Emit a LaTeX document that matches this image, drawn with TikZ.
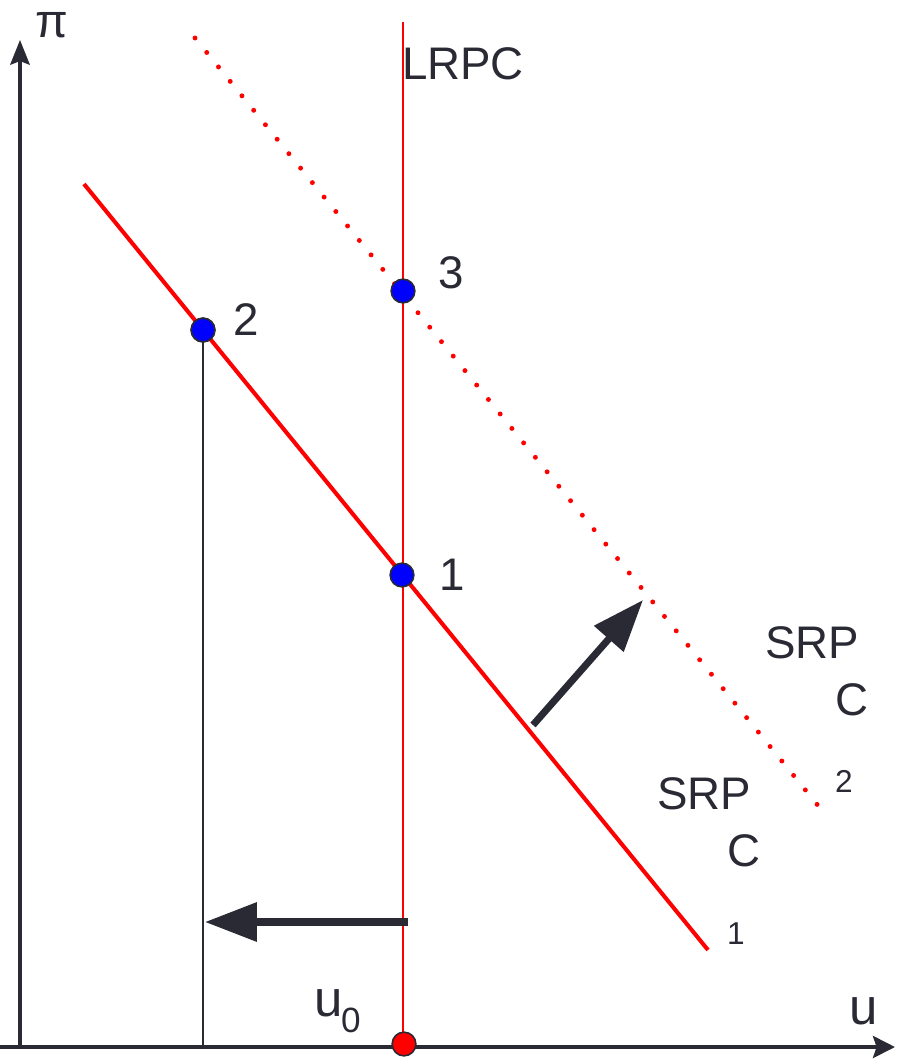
\documentclass[tikz,border=0pt]{standalone}
\usepackage{fontspec}
\setmainfont{Liberation Sans}
\usetikzlibrary{arrows.meta}
\definecolor{ink}{HTML}{2A2A35}
\definecolor{pred}{HTML}{FF0000}
\definecolor{pblue}{HTML}{0000FF}
\begin{document}
\begin{tikzpicture}[x=0.02cm,y=-0.02cm,
  lbl/.style={text=ink,inner sep=0pt,font=\fontsize{26pt}{30pt}\selectfont},
  sublbl/.style={text=ink,inner sep=0pt,font=\fontsize{18pt}{21pt}\selectfont},
  bigarrow/.style={draw=ink,line width=4pt,-{Triangle[length=29.5pt,width=21.5pt]}},
  dot/.style={circle,draw=ink,line width=0.9pt,minimum size=13.5pt,inner sep=0pt},
  axis/.style={draw=ink,line width=2.2pt}]
\useasboundingbox (0,0) rectangle (896,1061);
% coordinates
\coordinate (O) at (20,1047);
\coordinate (ytop) at (20,40);
\coordinate (xl) at (0,1047);
\coordinate (xr) at (895,1047);
\coordinate (lrtop) at (403,22);
\coordinate (lrbot) at (403,1047);
\coordinate (s1a) at (84,184);
\coordinate (s1b) at (708,950);
\coordinate (s2a) at (195,38);
\coordinate (s2b) at (820,808);
\coordinate (h1) at (408,922);
\coordinate (h2) at (205,922);
\coordinate (d1) at (533,725);
\coordinate (d2) at (643,600);
% lines
\draw[pred,line width=0.85pt] (lrtop) -- (lrbot);
\draw[pred,line width=2.8pt,line cap=round,dash pattern=on 0pt off 10.6pt] (s2a) -- (s2b);
\draw[pred,line width=2.3pt] (s1a) -- (s1b);
\node[dot,fill=pblue] (p2) at (203,330) {};
\draw[ink,line width=0.85pt] (p2.center) -- (p2.center |- xl);
% axes
\draw[axis,-{Stealth[length=14pt,width=11pt,inset=2pt]}] (O |- xl) -- (ytop);
\draw[axis,-{Stealth[length=12.5pt,width=12.5pt,inset=2pt]}] (xl) -- (xr);
% arrows
\draw[bigarrow] (h1) -- (h2);
\draw[bigarrow] (d1) -- (d2);
% points
\node[dot,fill=pblue] (p3) at (403,291) {};
\node[dot,fill=pblue] (p1) at (402,575) {};
\node[dot,fill=pred] (p0) at (404,1044) {};
\node[dot,fill=pblue] at (p2) {};
% labels
\node[text=ink,inner sep=0pt,font=\fontsize{27pt}{30pt}\selectfont] (pi) at (52,25) {π};
\node[lbl] (lrpc) at (463,64) {LRPC};
\node[lbl] (l3) at (451,273) {3};
\node[lbl] (l2) at (246,320) {2};
\node[lbl] (l1) at (452,575) {1};
\node[lbl] (srp2) at (812,643) {SRP};
\node[lbl] (c2) at (852,700) {C};
\node[sublbl] (n2) at (844,781) {2};
\node[lbl] (srp1) at (704,794) {SRP};
\node[lbl] (c1) at (744,851) {C};
\node[sublbl] (n1) at (736,934) {1};
\node[text=ink,inner sep=0pt,font=\fontsize{29pt}{32pt}\selectfont] (u0) at (329,1003) {u};
\node[text=ink,inner sep=0pt,font=\fontsize{20pt}{24pt}\selectfont] (u0s) at (351,1020) {0};
\node[text=ink,inner sep=0pt,font=\fontsize{29pt}{32pt}\selectfont] (u) at (864,1011) {u};
\end{tikzpicture}
\end{document}
